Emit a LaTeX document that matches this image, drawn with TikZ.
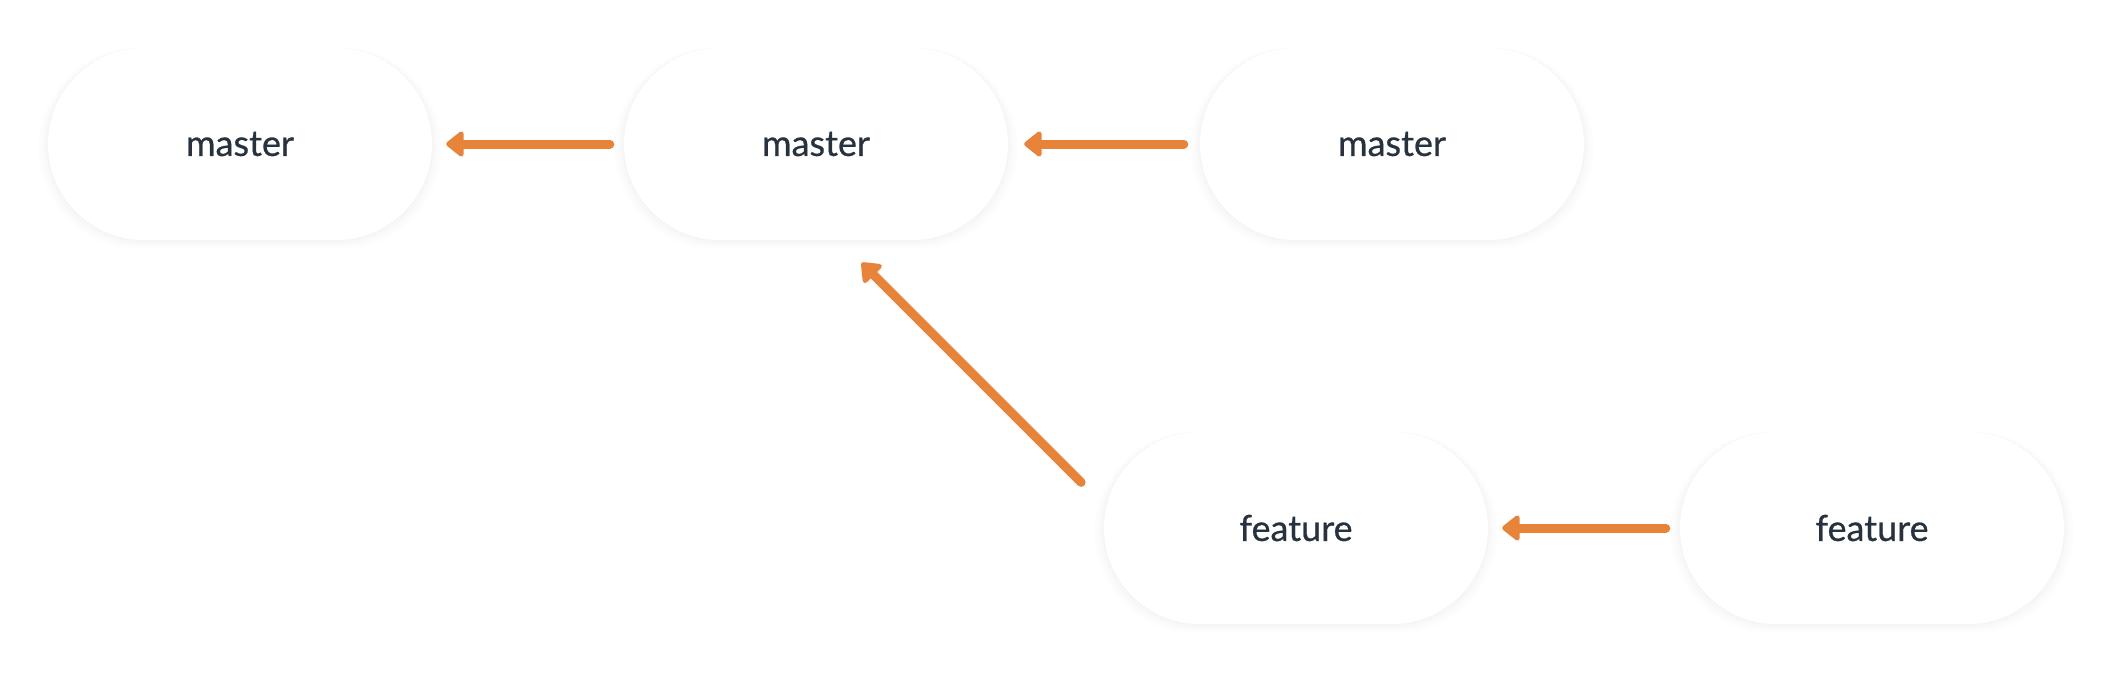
\documentclass[tikz,border=0pt]{standalone}
\usepackage{fontspec}
\setmainfont{Lato}
\newfontfamily\lblfont{Lato}[FakeBold=0.6]
\usetikzlibrary{arrows.meta,calc,shadows}
\definecolor{txt}{HTML}{27323F}
\definecolor{arrowc}{HTML}{E8843A}
\begin{document}
\begin{tikzpicture}[x=1pt,y=-1pt,
  commit/.style={rectangle, rounded corners=96pt, minimum width=384pt, minimum height=192pt,
    fill=white, inner sep=0pt, text=txt, font=\lblfont\fontsize{36}{40}\selectfont,
    general shadow={fill=black, opacity=0.007, shadow scale=1.05, shadow yshift=-4pt},
    general shadow={fill=black, opacity=0.009, shadow scale=1.035, shadow yshift=-3pt},
    general shadow={fill=black, opacity=0.011, shadow scale=1.02, shadow yshift=-2pt},
    general shadow={fill=black, opacity=0.012, shadow scale=1.008, shadow yshift=-1pt}},
  arr/.style={draw=arrowc, line width=9pt, line cap=round,
    -{Triangle[length=19pt,width=29pt,round]}}
]
\useasboundingbox[fill=white] (0,0) rectangle (2112,672);
\node[commit] (m1) at (240,144) {master};
\node[commit] (m2) at (816,144) {master};
\node[commit] (m3) at (1392,144) {master};
\node[commit] (f1) at (1296,528) {feature};
\node[commit] (f2) at (1872,528) {feature};
\draw[arr, shorten <=14pt, shorten >=14pt] (m2.west) -- (m1.east);
\draw[arr, shorten <=16pt, shorten >=16pt] (m3.west) -- (m2.east);
\draw[arr, shorten <=14pt, shorten >=14pt] (f2.west) -- (f1.east);
\draw[arr, shorten <=32pt, shorten >=32pt] ($(f1.west)+(0,-23)$) -- ($(m2.south)+(23,0)$);
\end{tikzpicture}
\end{document}
